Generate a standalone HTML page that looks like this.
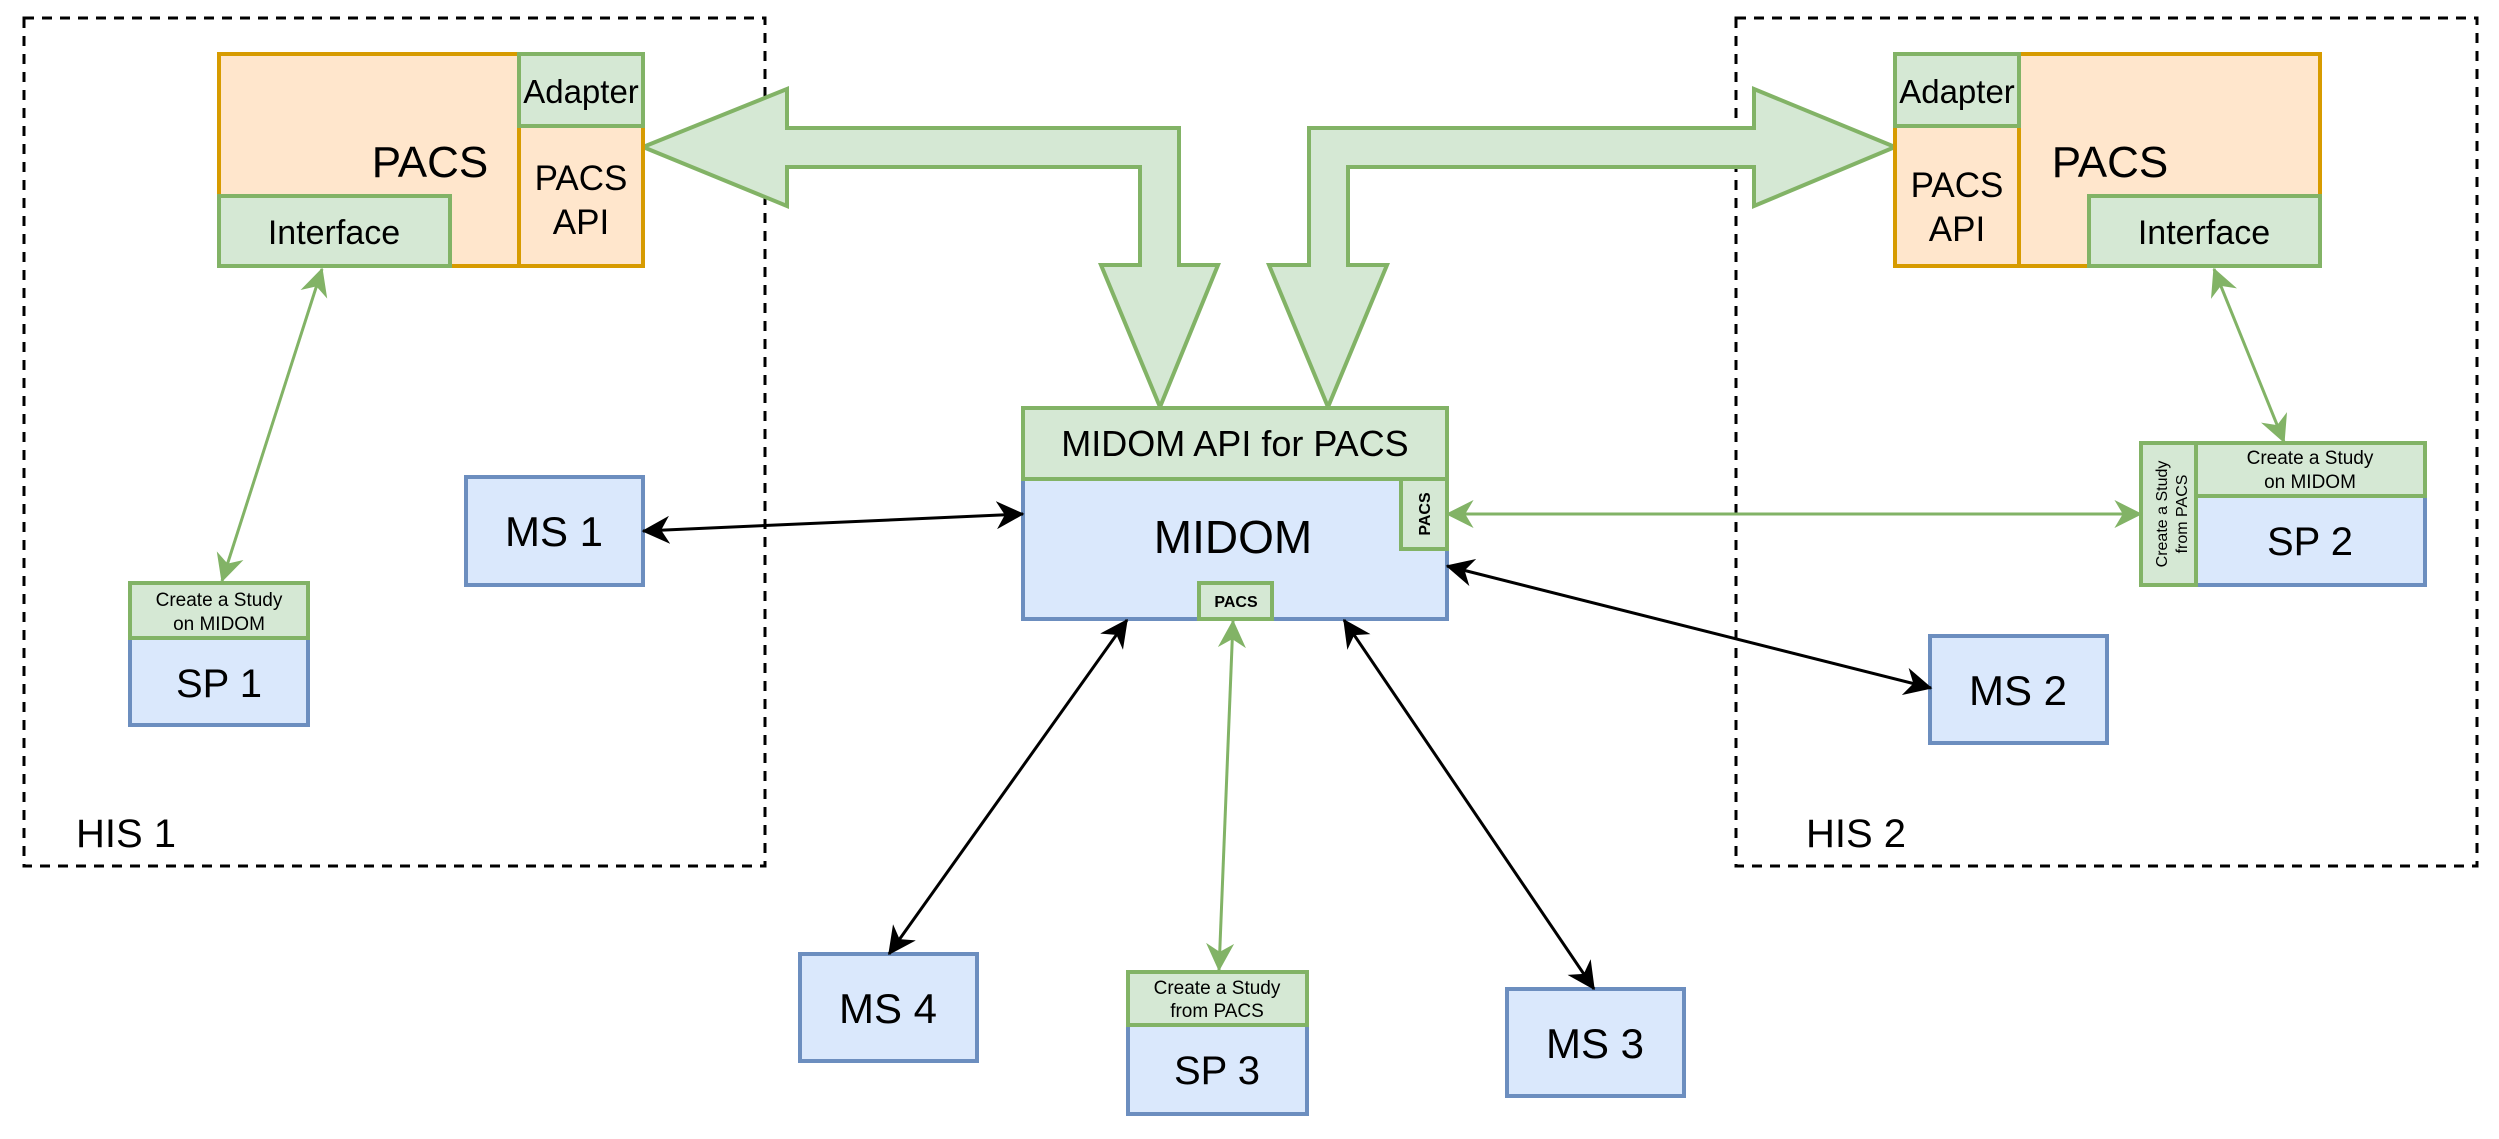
<!DOCTYPE html>
<html><head><meta charset="utf-8"><style>
html,body{margin:0;padding:0;background:#fff;}
svg{display:block;font-family:"Liberation Sans",Arial,sans-serif;}
</style></head><body>
<svg width="2499" height="1139" viewBox="0 0 2499 1139" xmlns="http://www.w3.org/2000/svg">
<defs>
<marker id="ab" viewBox="0 0 20 20" refX="19" refY="10" markerWidth="28" markerHeight="28" markerUnits="userSpaceOnUse" orient="auto-start-reverse">
<path d="M0,0 L20,10 L0,20 L6,10 Z" fill="#000"/></marker>
<marker id="ag" viewBox="0 0 20 20" refX="19" refY="10" markerWidth="28" markerHeight="28" markerUnits="userSpaceOnUse" orient="auto-start-reverse">
<path d="M0,0 L20,10 L0,20 L6,10 Z" fill="#82b366"/></marker>
</defs>
<g fill="none" stroke="#000" stroke-width="3" stroke-dasharray="10,8">
<rect x="24" y="18" width="741" height="848"/>
<rect x="1736" y="18" width="741" height="848"/>
</g>
<g font-size="40" fill="#000">
<text x="76" y="847">HIS 1</text>
<text x="1806" y="847">HIS 2</text>
</g>
<path d="M643,147 L787,89 L787,128 L1179,128 L1179,265 L1218,265 L1160,407 L1101,265 L1140,265 L1140,167 L787,167 L787,206 Z" fill="#d5e8d4" stroke="#82b366" stroke-width="4"/>
<path d="M1895,147 L1754,89 L1754,128 L1309,128 L1309,265 L1269,265 L1328,407 L1387,265 L1348,265 L1348,167 L1754,167 L1754,206 Z" fill="#d5e8d4" stroke="#82b366" stroke-width="4"/>
<!-- PACS 1 -->
<rect x="219" y="54" width="424" height="212" fill="#ffe6cc" stroke="#d79b00" stroke-width="4"/>
<rect x="519" y="126" width="124" height="140" fill="#ffe6cc" stroke="#d79b00" stroke-width="4"/>
<rect x="519" y="54" width="124" height="72" fill="#d5e8d4" stroke="#82b366" stroke-width="4"/>
<rect x="219" y="196" width="231" height="70" fill="#d5e8d4" stroke="#82b366" stroke-width="4"/>
<text x="430" y="177" font-size="44" text-anchor="middle">PACS</text>
<text x="581" y="103" font-size="33" text-anchor="middle">Adapter</text>
<text x="581" y="190" font-size="35" text-anchor="middle">PACS</text>
<text x="581" y="234" font-size="35" text-anchor="middle">API</text>
<text x="334" y="244" font-size="34" text-anchor="middle">Interface</text>
<!-- PACS 2 -->
<rect x="1895" y="54" width="425" height="212" fill="#ffe6cc" stroke="#d79b00" stroke-width="4"/>
<rect x="1895" y="126" width="124" height="140" fill="#ffe6cc" stroke="#d79b00" stroke-width="4"/>
<rect x="1895" y="54" width="124" height="72" fill="#d5e8d4" stroke="#82b366" stroke-width="4"/>
<rect x="2089" y="196" width="231" height="70" fill="#d5e8d4" stroke="#82b366" stroke-width="4"/>
<text x="2110" y="177" font-size="44" text-anchor="middle">PACS</text>
<text x="1957" y="103" font-size="33" text-anchor="middle">Adapter</text>
<text x="1957" y="197" font-size="35" text-anchor="middle">PACS</text>
<text x="1957" y="241" font-size="35" text-anchor="middle">API</text>
<text x="2204" y="244" font-size="34" text-anchor="middle">Interface</text>
<!-- MIDOM -->
<rect x="1023" y="479" width="424" height="140" fill="#dae8fc" stroke="#6c8ebf" stroke-width="4"/>
<rect x="1023" y="408" width="424" height="71" fill="#d5e8d4" stroke="#82b366" stroke-width="4"/>
<rect x="1401" y="479" width="46" height="70" fill="#d5e8d4" stroke="#82b366" stroke-width="4"/>
<rect x="1199" y="583" width="73" height="36" fill="#d5e8d4" stroke="#82b366" stroke-width="4"/>
<text x="1235" y="456" font-size="36" text-anchor="middle">MIDOM API for PACS</text>
<text x="1233" y="553" font-size="46" text-anchor="middle">MIDOM</text>
<text x="1236" y="607" font-size="16" text-anchor="middle" font-weight="bold">PACS</text>
<text transform="translate(1430,514) rotate(-90)" font-size="16" text-anchor="middle" font-weight="bold">PACS</text>
<g fill="#dae8fc" stroke="#6c8ebf" stroke-width="4">
<rect x="466" y="477" width="177" height="108"/>
<rect x="800" y="954" width="177" height="107"/>
<rect x="1507" y="989" width="177" height="107"/>
<rect x="1930" y="636" width="177" height="107"/>
</g>
<g font-size="42" text-anchor="middle">
<text x="554" y="546">MS 1</text>
<text x="888" y="1023">MS 4</text>
<text x="1595" y="1058">MS 3</text>
<text x="2018" y="705">MS 2</text>
</g>
<!-- SP1 -->
<rect x="130" y="638" width="178" height="87" fill="#dae8fc" stroke="#6c8ebf" stroke-width="4"/>
<rect x="130" y="583" width="178" height="55" fill="#d5e8d4" stroke="#82b366" stroke-width="4"/>
<text x="219" y="606" font-size="19" text-anchor="middle">Create a Study</text>
<text x="219" y="630" font-size="19" text-anchor="middle">on MIDOM</text>
<text x="219" y="697" font-size="40" text-anchor="middle">SP 1</text>
<!-- SP3 -->
<rect x="1128" y="1025" width="179" height="89" fill="#dae8fc" stroke="#6c8ebf" stroke-width="4"/>
<rect x="1128" y="972" width="179" height="53" fill="#d5e8d4" stroke="#82b366" stroke-width="4"/>
<text x="1217" y="994" font-size="19" text-anchor="middle">Create a Study</text>
<text x="1217" y="1017" font-size="19" text-anchor="middle">from PACS</text>
<text x="1217" y="1084" font-size="40" text-anchor="middle">SP 3</text>
<!-- SP2 -->
<rect x="2196" y="496" width="229" height="89" fill="#dae8fc" stroke="#6c8ebf" stroke-width="4"/>
<rect x="2196" y="443" width="229" height="53" fill="#d5e8d4" stroke="#82b366" stroke-width="4"/>
<rect x="2141" y="443" width="55" height="142" fill="#d5e8d4" stroke="#82b366" stroke-width="4"/>
<text x="2310" y="464" font-size="19" text-anchor="middle">Create a Study</text>
<text x="2310" y="488" font-size="19" text-anchor="middle">on MIDOM</text>
<text x="2310" y="555" font-size="40" text-anchor="middle">SP 2</text>
<text transform="translate(2167,514) rotate(-90)" font-size="16" text-anchor="middle">Create a Study</text>
<text transform="translate(2187,514) rotate(-90)" font-size="16" text-anchor="middle">from PACS</text>
<g stroke="#82b366" stroke-width="3" fill="none">
<line x1="222" y1="581" x2="322" y2="269" marker-start="url(#ag)" marker-end="url(#ag)"/>
<line x1="1219" y1="970" x2="1233" y2="621" marker-start="url(#ag)" marker-end="url(#ag)"/>
<line x1="1447" y1="514" x2="2141" y2="514" marker-start="url(#ag)" marker-end="url(#ag)"/>
<line x1="2214" y1="269" x2="2284" y2="442" marker-start="url(#ag)" marker-end="url(#ag)"/>
</g>
<g stroke="#000" stroke-width="3" fill="none">
<line x1="643" y1="531" x2="1023" y2="514" marker-start="url(#ab)" marker-end="url(#ab)"/>
<line x1="889" y1="954" x2="1127" y2="620" marker-start="url(#ab)" marker-end="url(#ab)"/>
<line x1="1594" y1="989" x2="1344" y2="620" marker-start="url(#ab)" marker-end="url(#ab)"/>
<line x1="1931" y1="688" x2="1447" y2="566" marker-start="url(#ab)" marker-end="url(#ab)"/>
</g>
</svg>
</body></html>
